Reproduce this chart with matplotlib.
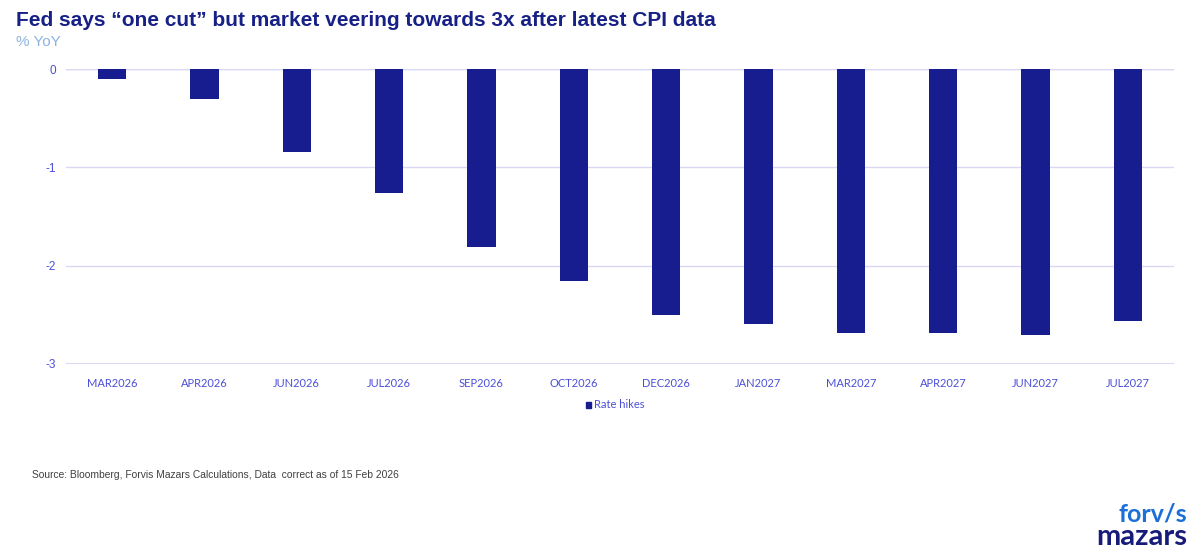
import matplotlib
matplotlib.use("Agg")
import matplotlib.pyplot as plt
from matplotlib.patches import Patch

# data
months = ["MAR2026", "APR2026", "JUN2026", "JUL2026", "SEP2026", "OCT2026",
          "DEC2026", "JAN2027", "MAR2027", "APR2027", "JUN2027", "JUL2027"]
rate_hikes = [-0.10, -0.31, -0.84, -1.26, -1.81, -2.16,
              -2.50, -2.59, -2.68, -2.68, -2.71, -2.56]

bar_color = "#171c8f"
tick_color = "#4b4fd6"
grid_color = "#d8d8f4"

fig = plt.figure(figsize=(12.04, 5.52), dpi=100)
ax = fig.add_axes([66 / 1204, 188 / 552, (1174 - 66) / 1204, 295 / 552])

ax.bar(range(len(months)), rate_hikes, width=0.31, color=bar_color, zorder=3,
       label="Rate hikes")
ax.set_xlim(-0.5, len(months) - 0.5)
ax.set_ylim(-3, 0)
ax.set_yticks([0, -1, -2, -3])
ax.set_yticklabels(["0", "-1", "-2", "-3"])
ax.set_xticks(range(len(months)))
ax.set_xticklabels(months)

ax.grid(axis="y", color=grid_color, linewidth=1, zorder=0)
ax.axhline(0, color=grid_color, linewidth=1, zorder=1)
ax.axhline(-3, color=grid_color, linewidth=1.5, zorder=1)
for s in ax.spines.values():
    s.set_visible(False)
ax.tick_params(axis="both", length=0, colors=tick_color)
ax.tick_params(axis="x", pad=10)
ax.tick_params(axis="y", pad=7)
for lbl in ax.get_xticklabels():
    lbl.set_fontfamily("Lato")
    lbl.set_fontsize(8)
for lbl in ax.get_yticklabels():
    lbl.set_fontfamily("Liberation Sans")
    lbl.set_fontsize(8.5)

ax.legend(handles=[Patch(color=bar_color, label="Rate hikes")],
          loc="center", bbox_to_anchor=(615 / 1204, 1 - 405 / 552),
          bbox_transform=fig.transFigure, frameon=False,
          handlelength=0.45, handleheight=0.45, handletextpad=0.3,
          prop={"family": "Lato", "size": 8}, labelcolor=tick_color)

fig.text(16 / 1204, 1 - 20 / 552, "Fed says \u201cone cut\u201d but market veering towards 3x after latest CPI data",
         fontsize=15, fontweight="bold", color="#172087", family="Liberation Sans",
         va="center", ha="left")
fig.text(16 / 1204, 1 - 42 / 552, "% YoY", fontsize=11, color="#8db4dd",
         family="Liberation Sans", va="center", ha="left")
fig.text(32 / 1204, 1 - 475 / 552,
         "Source: Bloomberg, Forvis Mazars Calculations, Data  correct as of 15 Feb 2026",
         fontsize=7.4, color="#404040", family="Liberation Sans", va="center", ha="left")

# logo
fig.text(1187 / 1204, 1 - 514 / 552, "forv/s", fontsize=18, color="#1b6fd6",
         family="Lato", fontweight="bold", va="center", ha="right")
fig.text(1187 / 1204, 1 - 537 / 552, "mazars", fontsize=21, color="#171c7a",
         family="Lato", fontweight="bold", va="center", ha="right")

fig.savefig("out.png", dpi=100)
